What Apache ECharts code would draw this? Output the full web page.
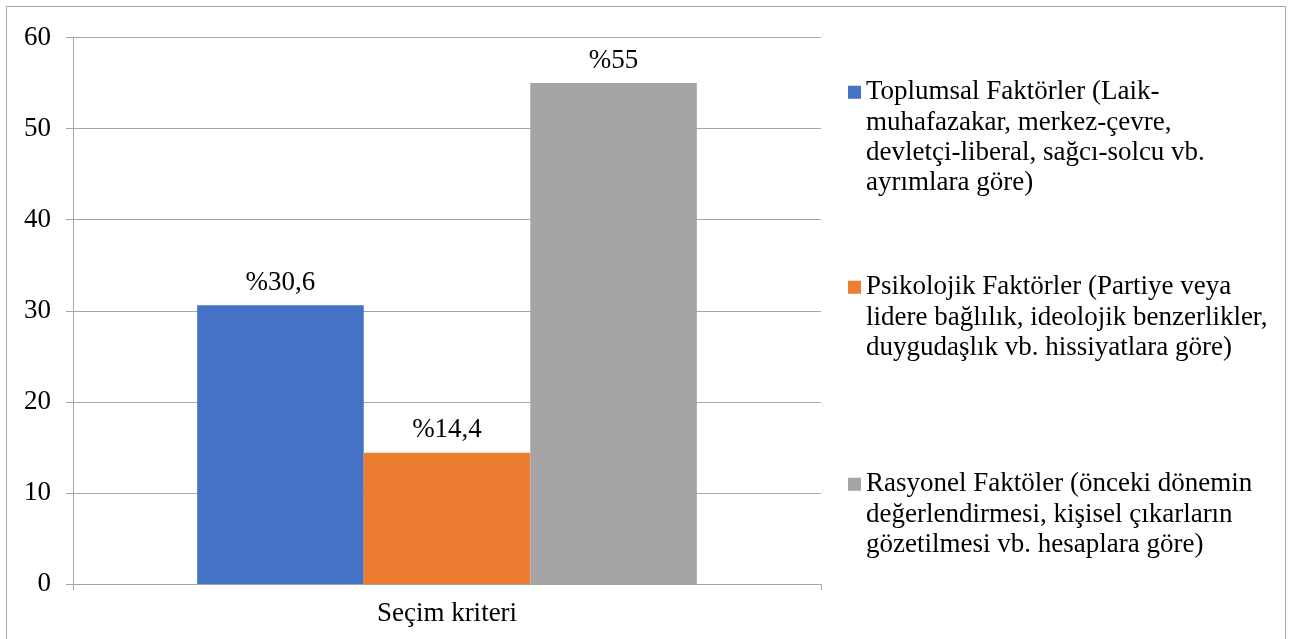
<!DOCTYPE html>
<html>
<head>
<meta charset="utf-8">
<script src="https://cdn.jsdelivr.net/npm/echarts@6/dist/echarts.min.js"></script>
<style>
  html, body { margin: 0; padding: 0; background: #fff; overflow: hidden; }
  #frame { position: absolute; left: 6px; top: 6px; width: 1278px; height: 700px; border: 1px solid #a6a6a6; }
  #chart { position: absolute; left: 0; top: 0; width: 1291px; height: 639px; }
</style>
</head>
<body>
<div id="frame"></div>
<div id="chart"></div>
<script>
// veri
var categories = ['Seçim kriteri'];
var seriesNames = [
    'Toplumsal Faktörler (Laik-\nmuhafazakar, merkez-çevre,\ndevletçi-liberal, sağcı-solcu vb.\nayrımlara göre)',
    'Psikolojik Faktörler (Partiye veya\nlidere bağlılık, ideolojik benzerlikler,\nduygudaşlık vb. hissiyatlara göre)',
    'Rasyonel Faktöler (önceki dönemin\ndeğerlendirmesi, kişisel çıkarların\ngözetilmesi vb. hesaplara göre)'
];
var seriesValues = [[30.6], [14.4], [55]];
var valueLabels = ['%30,6', '%14,4', '%55'];
var colors = ['#4472C4', '#ED7D31', '#A5A5A5'];
var yTicks = { min: 0, max: 60, interval: 10 };

var serif = "'Liberation Serif', 'Times New Roman', serif";
var grey = '#a6a6a6';
var lineH = 30.4;

// legend ikonu: kare ilk satırın hizasında
function iconPath(lines) {
    var h = lines * lineH;
    var y0 = (lineH - 13) / 2;
    return 'path://M0,0h0.01v0.01h-0.01z M12.99,' + (h - 0.01) + 'h0.01v0.01h-0.01z M0,' + y0 + 'h13v13h-13z';
}
var legendTops = [77, 272, 469];
var legendLines = [4, 3, 3];

var chart = echarts.init(document.getElementById('chart'));

var legends = seriesNames.map(function (name, i) {
    return {
        data: [name],
        orient: 'vertical',
        left: 848,
        top: legendTops[i],
        padding: 0,
        itemWidth: 13,
        itemHeight: legendLines[i] * lineH,
        icon: iconPath(legendLines[i]),
        selectedMode: false,
        textStyle: {
            fontFamily: serif,
            fontSize: 27,
            lineHeight: lineH,
            color: '#000'
        }
    };
});

var series = seriesNames.map(function (name, i) {
    return {
        name: name,
        type: 'bar',
        data: seriesValues[i],
        barGap: 0,
        barCategoryGap: '33.2%',
        itemStyle: { color: colors[i] },
        label: {
            show: true,
            position: 'top',
            distance: 9,
            formatter: valueLabels[i],
            fontFamily: serif,
            fontSize: 27,
            color: '#000'
        }
    };
});

chart.setOption({
    animation: false,
    legend: legends,
    grid: { left: 73, right: 470, top: 37.5, bottom: 55 },
    xAxis: {
        type: 'category',
        data: categories,
        axisLine: { lineStyle: { color: grey, width: 1 } },
        axisTick: { show: true, length: 6, lineStyle: { color: grey } },
        axisLabel: { margin: 16, fontFamily: serif, fontSize: 27, color: '#000' }
    },
    yAxis: {
        type: 'value',
        min: yTicks.min,
        max: yTicks.max,
        interval: yTicks.interval,
        axisLine: { show: true, lineStyle: { color: grey, width: 1 } },
        axisTick: { show: true, length: 7, lineStyle: { color: grey } },
        axisLabel: { margin: 22, fontFamily: serif, fontSize: 27, color: '#000' },
        splitLine: { lineStyle: { color: grey, width: 1 } }
    },
    series: series
});
</script>
</body>
</html>
